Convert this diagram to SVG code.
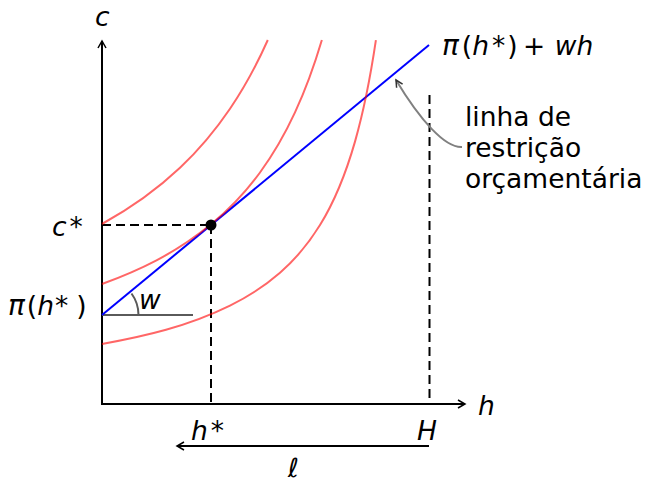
<svg xmlns="http://www.w3.org/2000/svg" width="646" height="482" viewBox="0 0 646 482">
<defs>
<marker id="ah" viewBox="-10 -6 12 12" refX="0" refY="0" markerWidth="12" markerHeight="12" markerUnits="userSpaceOnUse" orient="auto">
<path d="M-7,-4 L0,0 L-7,4" fill="none" stroke="#000" stroke-width="1.5"/>
</marker>
<marker id="ahg" viewBox="-10 -6 12 12" refX="0" refY="0" markerWidth="12" markerHeight="12" markerUnits="userSpaceOnUse" orient="auto">
<path d="M-7,-3.5 L0,0 L-7,3.5" fill="none" stroke="#333" stroke-width="1.5"/>
</marker>
</defs>
<style>
text{font-family:"DejaVu Sans","Liberation Sans",sans-serif;font-size:26.5px;fill:#000}
.it{font-style:italic}
.pi{font-style:italic;font-size:28px}
.ax{stroke:#000;stroke-width:2;fill:none}
.dash{stroke:#000;stroke-width:2;fill:none;stroke-dasharray:9 5}
.ic{stroke:#ff0000;stroke-opacity:0.6;stroke-width:2;fill:none}
.gray{stroke:#5a5a5a;stroke-width:2;fill:none}
</style>
<rect width="646" height="482" fill="#fff"/>
<g id="guides">
<line class="dash" x1="102" y1="225" x2="211" y2="225"/>
<line class="dash" x1="211" y1="225" x2="211" y2="404"/>
<line class="dash" x1="429.5" y1="95" x2="429.5" y2="404"/>
</g>
<g id="axes">
<line class="ax" x1="102" y1="405" x2="102" y2="41" marker-end="url(#ah)"/>
<line class="ax" x1="101" y1="404" x2="465" y2="404" marker-end="url(#ah)"/>
</g>
<g id="angle-w">
<line class="gray" x1="102" y1="315" x2="193" y2="315"/>
<path class="gray" d="M138.5,315 A36.5,36.5 0 0 0 131.5,293.5"/>
</g>
<g id="budget-line">
<line x1="102" y1="315" x2="429" y2="45" stroke="#0000ff" stroke-width="2"/>
</g>
<g id="indifference-curves">
<path class="ic" d="M102,224 C128,209.73 154,192.4 180,167.84 C196.67,152.1 213.33,133.4 230,108.8 C242.6,90.2 255.2,68.28 267.8,40"/>
<path class="ic" d="M102,284 C138.33,270.71 174.67,254.09 211,224.27 C227.33,210.87 243.67,194.71 260,172.47 C271.67,156.58 283.33,137.64 295,112.44 C303.96,93.1 312.91,70.15 321.87,40"/>
<path class="ic" d="M102,344 C144.67,336.2 187.33,326.6 230,305.6 C246.67,297.4 263.33,287.4 280,272.8 C293.33,261.1 306.67,246.8 320,225.1 C331.67,206.1 343.33,182.4 355,141.6 C361.97,117.2 368.93,87.05 375.9,40.2"/>
</g>
<g id="optimum">
<circle cx="211" cy="225" r="5.5" fill="#000"/>
</g>
<g id="connectors">
<path d="M462,147 C445,148 420,120 396,80" fill="none" stroke="#808080" stroke-width="2" marker-end="url(#ahg)"/>
<line class="ax" x1="429" y1="446" x2="177" y2="446" marker-end="url(#ah)"/>
</g>
<g id="labels">
<text class="it" x="95" y="26">c</text>
<text class="it" x="478" y="415">h</text>
<text x="52" y="236"><tspan class="it">c</tspan><tspan dx="3">*</tspan></text>
<text x="8" y="315"><tspan class="pi">π</tspan><tspan dx="2">(</tspan><tspan class="it">h</tspan><tspan dx="1">*</tspan><tspan dx="8">)</tspan></text>
<text class="it" x="139" y="309">w</text>
<text x="191" y="440"><tspan class="it">h</tspan><tspan dx="3">*</tspan></text>
<text class="it" x="417" y="440">H</text>
<text class="it" x="288" y="477">ℓ</text>
<text x="442" y="55"><tspan class="pi">π</tspan><tspan dx="3">(</tspan><tspan class="it">h</tspan><tspan dx="3">*</tspan><tspan dx="2">)</tspan><tspan dx="5.5">+</tspan><tspan class="it" dx="9.5">wh</tspan></text>
<text x="465" y="126">linha de</text>
<text x="465" y="157">restrição</text>
<text x="465" y="188">orçamentária</text>
</g>
</svg>
